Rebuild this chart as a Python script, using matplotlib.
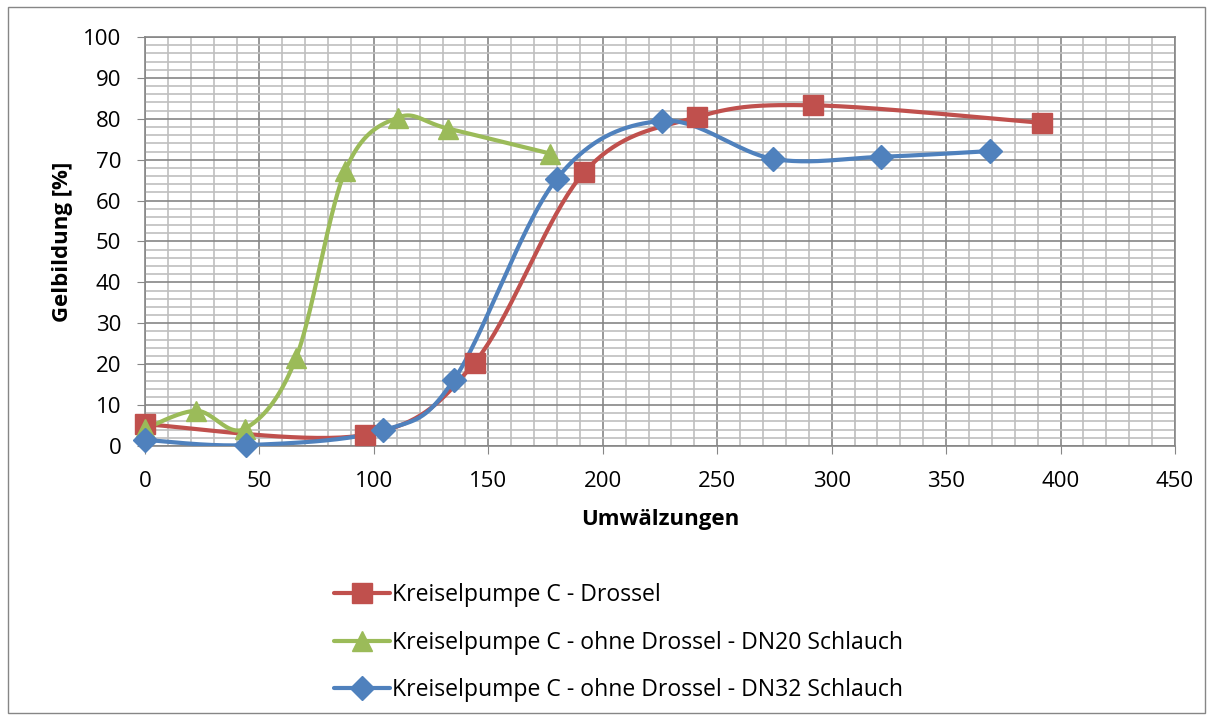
import numpy as np
import matplotlib
matplotlib.use("Agg")
import matplotlib.pyplot as plt
from matplotlib.patches import Rectangle
from matplotlib.ticker import MultipleLocator

# values
drossel_x = [0, 96, 144, 192, 241, 292, 392]
drossel_y = [5.3, 2.7, 20.4, 67.0, 80.4, 83.3, 79.0]

dn20_x = [0, 22.5, 43.5, 66, 87.5, 110.5, 132.5, 177]
dn20_y = [4.2, 8.6, 4.2, 21.5, 67.3, 80.3, 77.6, 71.5]

dn32_x = [0, 44, 104, 135, 180, 226, 274.5, 321.5, 369]
dn32_y = [1.5, 0.2, 3.8, 16.2, 65.4, 79.5, 70.2, 70.7, 72.1]

labels = ["Kreiselpumpe C - Drossel",
          "Kreiselpumpe C - ohne Drossel - DN20 Schlauch",
          "Kreiselpumpe C - ohne Drossel - DN32 Schlauch"]
colors = ["#C0504D", "#9BBB59", "#4F81BD"]
markers = ["s", "^", "D"]
msizes = [14, 14, 12.5]

plt.rcParams["font.family"] = ["Open Sans", "DejaVu Sans"]

fig = plt.figure(figsize=(12.13, 7.2), dpi=100)
ax = fig.add_axes([0.1195, 0.3806, 0.9687 - 0.1195, 0.9486 - 0.3806])
ax.set_xlim(0, 450)
ax.set_ylim(0, 100)


def smooth(xs, ys, n=40):
    # Excel-style smoothed line: Catmull-Rom bezier computed in pixel space
    pts = ax.transData.transform(np.column_stack([xs, ys]))
    p = np.vstack([pts[0], pts, pts[-1]])
    out = []
    t = np.linspace(0, 1, n)[:, None]
    for i in range(1, len(p) - 2):
        p0, p1, p2, p3 = p[i - 1], p[i], p[i + 1], p[i + 2]
        c1 = p1 + (p2 - p0) / 6
        c2 = p2 - (p3 - p1) / 6
        seg = ((1 - t) ** 3) * p1 + 3 * ((1 - t) ** 2) * t * c1 + 3 * (1 - t) * t ** 2 * c2 + t ** 3 * p2
        out.append(seg)
    curve = np.vstack(out)
    return ax.transData.inverted().transform(curve)


series = [(drossel_x, drossel_y), (dn20_x, dn20_y), (dn32_x, dn32_y)]
handles = []
for (xs, ys), c, m, ms, lab in zip(series, colors, markers, msizes, labels):
    cv = smooth(xs, ys)
    ax.plot(cv[:, 0], cv[:, 1], color=c, lw=3, solid_capstyle="round", zorder=3)
    ax.plot(xs, ys, ls="none", marker=m, ms=ms, color=c, mec=c, zorder=4, clip_on=False)
    h, = ax.plot([], [], color=c, lw=3, marker=m, ms=ms, mec=c, solid_capstyle="round")
    handles.append(h)

ax.xaxis.set_major_locator(MultipleLocator(50))
ax.xaxis.set_minor_locator(MultipleLocator(10))
ax.yaxis.set_major_locator(MultipleLocator(10))
ax.yaxis.set_minor_locator(MultipleLocator(2))
ax.grid(which="major", color="#868686", lw=1.2, zorder=0)
ax.grid(which="minor", color="#BFBFBF", lw=1.2, zorder=0)
ax.set_axisbelow(True)

for s in ax.spines.values():
    s.set_color("#868686")
    s.set_linewidth(1.2)
ax.tick_params(which="major", length=6, color="#868686", labelsize=16)
ax.tick_params(which="minor", length=0)
ax.tick_params(axis="x", pad=12)
ax.tick_params(axis="y", pad=11)

ax.set_xlabel("Umwälzungen", fontsize=16, fontweight="bold", labelpad=12)
ax.set_ylabel("Gelbildung [%]", fontsize=16, fontweight="bold", labelpad=7)

fig.legend(handles, labels, loc="upper left", bbox_to_anchor=(0.268, 0.203),
           frameon=False, fontsize=16.6, handlelength=2.4, handletextpad=0.12,
           labelspacing=1.02, borderaxespad=0)

fig.patches.append(Rectangle((8 / 1213, 7 / 720), 1197 / 1213, 706 / 720,
                             transform=fig.transFigure, fill=False,
                             edgecolor="#868686", lw=1))

fig.savefig("out.png", dpi=100)
